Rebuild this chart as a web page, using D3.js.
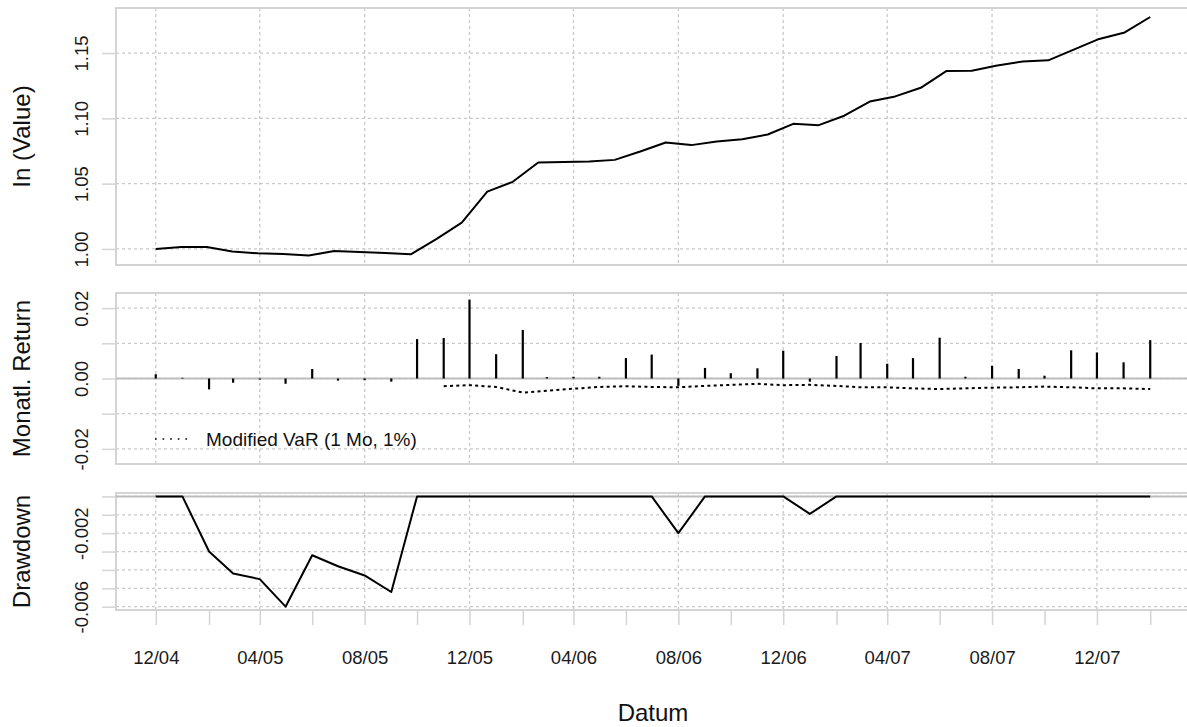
<!DOCTYPE html>
<html>
<head>
<meta charset="utf-8">
<script src="https://cdn.jsdelivr.net/npm/d3@7"></script>
<style>
  body { margin: 0; background: #fff; }
  svg { display: block; font-family: "Liberation Sans", Arial, sans-serif; }
</style>
</head>
<body>
<svg id="chart" width="1187" height="727"></svg>
<script>
// months of the return series (first of month)
const months = ["2004-12", "2005-01", "2005-02", "2005-03", "2005-04", "2005-05", "2005-06", "2005-07",
    "2005-08", "2005-09", "2005-10", "2005-11", "2005-12", "2006-01", "2006-02", "2006-03", "2006-04",
    "2006-05", "2006-06", "2006-07", "2006-08", "2006-09", "2006-10", "2006-11", "2006-12", "2007-01",
    "2007-02", "2007-03", "2007-04", "2007-05", "2007-06", "2007-07", "2007-08", "2007-09", "2007-10",
    "2007-11", "2007-12", "2008-01", "2008-02"];

// cumulative value (ln panel), starts with 1 and spans the same period with one point more
const valueSeries = [1.0000, 1.0015, 1.0015, 0.9980, 0.9967, 0.9962, 0.9949, 0.9985, 0.9977, 0.9968,
    0.9959, 1.0075, 1.0202, 1.0439, 1.0514, 1.0662, 1.0665, 1.0669, 1.0682, 1.0746,
    1.0815, 1.0795, 1.0822, 1.0840, 1.0876, 1.0958, 1.0948, 1.1020, 1.1129, 1.1168,
    1.1234, 1.1362, 1.1365, 1.1405, 1.1436, 1.1444, 1.1526, 1.1608, 1.1658, 1.1776];

// monthly returns
const monthlyReturns = [0.0012, 0.0002, -0.0031, -0.0012, -0.0003, -0.0015, 0.0027, -0.0006, -0.0005, -0.0009,
    0.0112, 0.0115, 0.0224, 0.0069, 0.0138, 0.0004, 0.0005, 0.0005, 0.0058, 0.0068,
    -0.0021, 0.0030, 0.0015, 0.0029, 0.0079, -0.0009, 0.0064, 0.0101, 0.0042, 0.0058,
    0.0116, 0.0005, 0.0036, 0.0027, 0.0008, 0.0080, 0.0074, 0.0046, 0.0109];

// modified VaR (1 month, 1%), starts at 11/05
const modifiedVaR = [null, null, null, null, null, null, null, null, null, null,
    null, -0.0022, -0.0019, -0.0024, -0.0040, -0.0035, -0.0029, -0.0024, -0.0022, -0.0024,
    -0.0025, -0.0021, -0.0018, -0.0015, -0.0019, -0.0018, -0.0021, -0.0025, -0.0025, -0.0028,
    -0.0030, -0.0028, -0.0026, -0.0025, -0.0023, -0.0025, -0.0028, -0.0028, -0.0030];

// drawdown
const drawdown = [0, 0, -0.0030, -0.0042, -0.0045, -0.0060, -0.0032, -0.0038, -0.0043, -0.0052,
    0, 0, 0, 0, 0, 0, 0, 0, 0, 0,
    -0.0020, 0, 0, 0, 0, -0.00095, 0, 0, 0, 0,
    0, 0, 0, 0, 0, 0, 0, 0, 0];

// axis ticks and labels
const valueTicks = [1.00, 1.05, 1.10, 1.15];
const valueTickLabels = ["1.00", "1.05", "1.10", "1.15"];
const returnTicks = [0.02, 0.01, 0.00, -0.01, -0.02];
const returnTickLabels = ["0.02", "", "0.00", "", "-0.02"];
const ddTicks = [0, -0.001, -0.002, -0.003, -0.004, -0.005, -0.006];
const ddTickLabels = ["", "", "-0.002", "", "", "", "-0.006"];
const panelTitles = ["In (Value)", "Monatl. Return", "Drawdown"];
const legendLabel = "Modified VaR (1 Mo, 1%)";
const xTitle = "Datum";

const parseMonth = d3.timeParse("%Y-%m");
const dates = months.map(parseMonth);
const fmtMonth = d3.timeFormat("%m/%y");

const svg = d3.select("#chart");

// layout
const left = 116, right = 1190;
const panels = [
    {top: 8, bottom: 265, domain: [0.9877, 1.1845], ticks: valueTicks, labels: valueTickLabels},
    {top: 293, bottom: 464, domain: [-0.0243, 0.0243], ticks: returnTicks, labels: returnTickLabels},
    {top: 493, bottom: 610, domain: [-0.00618, 0.000185], ticks: ddTicks, labels: ddTickLabels}
];
const gridColor = "#c9c9c9";
const boxColor = "#d4d4d4";

// shared x scale: data range plus 4% on each side
const first = dates[0], last = dates[dates.length - 1];
const pad = (last - first) * 0.04;
const x = d3.scaleTime()
    .domain([new Date(+first - pad), new Date(+last + pad)])
    .range([left, right]);

// value points are spread evenly over the same period
const xValue = d3.scaleLinear()
    .domain([0, valueSeries.length - 1])
    .range([x(first), x(last)]);

// every 2nd month gets a tick, every 4th a label and a grid line
const tickDates = dates.filter((d, i) => i % 2 === 0);
const gridDates = dates.filter((d, i) => i % 4 === 0);

panels.forEach((p, k) => {
    p.y = d3.scaleLinear().domain(p.domain).range([p.bottom, p.top]);
    const g = svg.append("g");

    // horizontal grid
    g.selectAll(".hgrid").data(p.ticks).join("line")
        .attr("x1", left).attr("x2", right)
        .attr("y1", d => p.y(d)).attr("y2", d => p.y(d))
        .attr("stroke", gridColor).attr("stroke-width", 1.3)
        .attr("stroke-dasharray", "3,3");

    // vertical grid
    g.selectAll(".vgrid").data(gridDates).join("line")
        .attr("x1", d => x(d)).attr("x2", d => x(d))
        .attr("y1", p.top).attr("y2", p.bottom)
        .attr("stroke", gridColor).attr("stroke-width", 1.3)
        .attr("stroke-dasharray", "3,3");

    // box
    g.append("rect")
        .attr("x", left).attr("y", p.top)
        .attr("width", right - left).attr("height", p.bottom - p.top)
        .attr("fill", "none").attr("stroke", boxColor).attr("stroke-width", 2);

    // y axis, rotated labels
    const yAxis = d3.axisLeft(p.y).tickValues(p.ticks).tickSize(14)
        .tickFormat((d, i) => p.labels[i]);
    const ax = g.append("g").attr("transform", `translate(${left},0)`).call(yAxis);
    ax.select(".domain").remove();
    ax.selectAll(".tick line").attr("stroke", boxColor).attr("stroke-width", 1.5);
    ax.selectAll(".tick text")
        .attr("x", null).attr("dy", null)
        .attr("text-anchor", "middle")
        .attr("transform", "translate(-28,0) rotate(-90)")
        .attr("fill", "#1a1a1a")
        .style("font-size", "18.5px");

    // panel title
    g.append("text")
        .attr("transform", `translate(30,${(p.top + p.bottom) / 2}) rotate(-90)`)
        .attr("text-anchor", "middle")
        .attr("fill", "#111")
        .style("font-size", "24px")
        .text(panelTitles[k]);
});

const [p1, p2, p3] = panels;

// panel 1: value line
svg.append("path")
    .datum(valueSeries)
    .attr("fill", "none").attr("stroke", "#000").attr("stroke-width", 2)
    .attr("stroke-linejoin", "round")
    .attr("d", d3.line().x((d, i) => xValue(i)).y(d => p1.y(d)));

// panel 2: zero line, bars, VaR
svg.append("line")
    .attr("x1", left).attr("x2", right)
    .attr("y1", p2.y(0)).attr("y2", p2.y(0))
    .attr("stroke", "#bdbdbd").attr("stroke-width", 2);

svg.selectAll(".bar").data(monthlyReturns).join("line")
    .attr("class", "bar")
    .attr("x1", (d, i) => x(dates[i])).attr("x2", (d, i) => x(dates[i]))
    .attr("y1", p2.y(0)).attr("y2", d => p2.y(d))
    .attr("stroke", "#000").attr("stroke-width", 2.2);

svg.append("path")
    .datum(modifiedVaR)
    .attr("fill", "none").attr("stroke", "#000").attr("stroke-width", 2)
    .attr("stroke-dasharray", "3,3.3")
    .attr("d", d3.line().defined(d => d !== null)
        .x((d, i) => x(dates[i])).y(d => p2.y(d)));

// legend
svg.append("line")
    .attr("x1", 155).attr("x2", 187).attr("y1", 439).attr("y2", 439)
    .attr("stroke", "#000").attr("stroke-width", 1.6)
    .attr("stroke-dasharray", "1.6,6");
svg.append("text")
    .attr("x", 206).attr("y", 446)
    .attr("fill", "#111")
    .style("font-size", "19px")
    .text(legendLabel);

// panel 3: drawdown
svg.append("line")
    .attr("x1", left).attr("x2", right)
    .attr("y1", p3.y(0)).attr("y2", p3.y(0))
    .attr("stroke", "#bdbdbd").attr("stroke-width", 2);

svg.append("path")
    .datum(drawdown)
    .attr("fill", "none").attr("stroke", "#000").attr("stroke-width", 2)
    .attr("stroke-linejoin", "round")
    .attr("d", d3.line().x((d, i) => x(dates[i])).y(d => p3.y(d)));

// x axis under the bottom panel
const labelled = new Set(gridDates.map(d => +d));
const xAxis = d3.axisBottom(x).tickValues(tickDates).tickSize(15).tickPadding(26)
    .tickFormat(d => labelled.has(+d) ? fmtMonth(d) : "");
const xa = svg.append("g").attr("transform", `translate(0,${p3.bottom})`).call(xAxis);
xa.select(".domain").remove();
xa.selectAll(".tick line").attr("stroke", boxColor).attr("stroke-width", 1.5);
xa.selectAll(".tick text").attr("fill", "#1a1a1a").style("font-size", "18.5px");

svg.append("text")
    .attr("x", (left + right) / 2).attr("y", 721)
    .attr("text-anchor", "middle")
    .attr("fill", "#111")
    .style("font-size", "24px")
    .text(xTitle);
</script>
</body>
</html>
